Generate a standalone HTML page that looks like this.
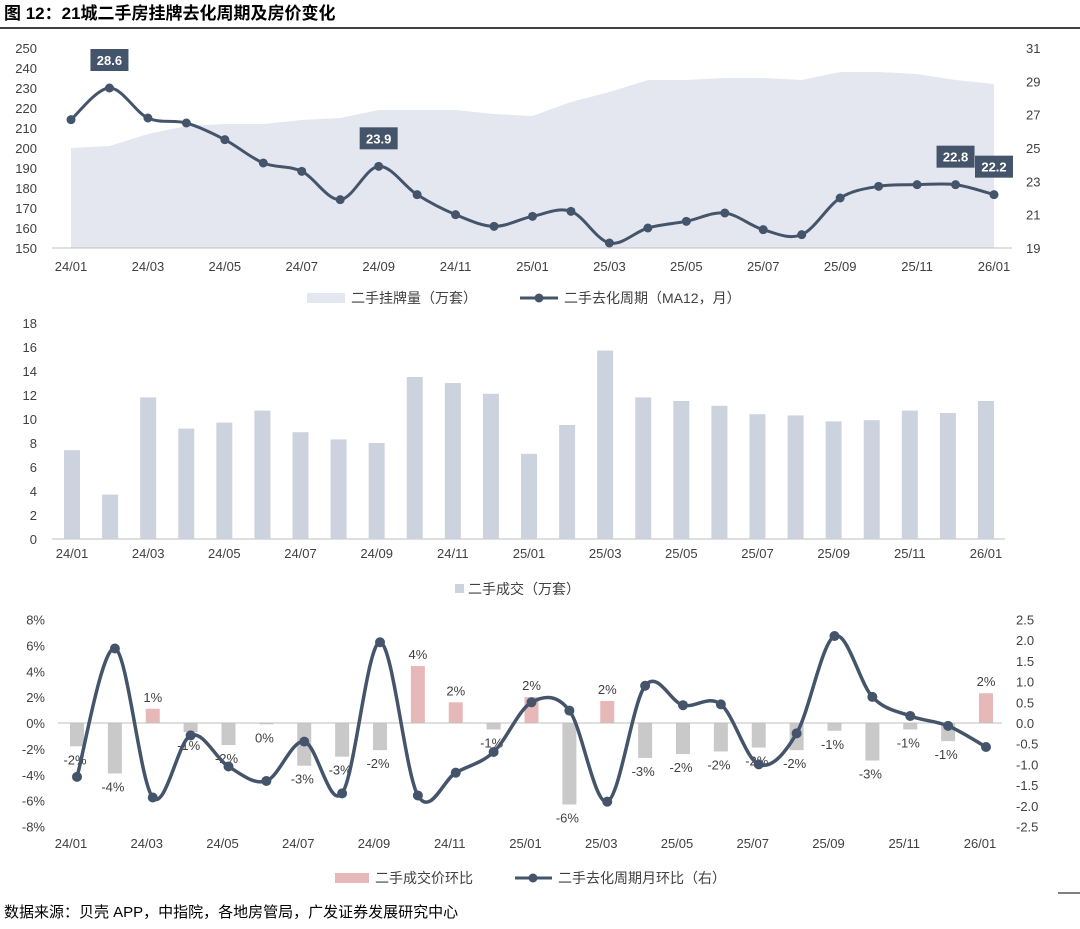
<!DOCTYPE html>
<html><head><meta charset="utf-8">
<style>
body{margin:0;background:#fff;font-family:"Liberation Sans","Noto Sans CJK SC",sans-serif;}
svg text{font-family:"Liberation Sans","Noto Sans CJK SC",sans-serif;}
</style></head>
<body>
<svg id="s" width="1080" height="924" viewBox="0 0 1080 924" xmlns="http://www.w3.org/2000/svg">
<text x="4" y="19" font-size="17" font-weight="bold" fill="#000">图 12：21城二手房挂牌去化周期及房价变化</text>
<line x1="0" y1="28" x2="1080" y2="28" stroke="#000" stroke-width="1.5"/>
<line x1="1058" y1="893" x2="1080" y2="893" stroke="#000" stroke-width="1"/>
<text x="4" y="917" font-size="15" fill="#000">数据来源：贝壳 APP，中指院，各地房管局，广发证券发展研究中心</text>
<g id="g1"></g><g id="g2"></g><g id="g3"></g>
</svg>
<script>
const months=["24/01","24/02","24/03","24/04","24/05","24/06","24/07","24/08","24/09","24/10","24/11","24/12","25/01","25/02","25/03","25/04","25/05","25/06","25/07","25/08","25/09","25/10","25/11","25/12","26/01"];
const listing=[200,201,207,211,212,212,214,215,219,219,219,217,216,223,228,234,234,235,235,234,238,238,237,234,232];
const cycle=[26.7,28.6,26.8,26.5,25.5,24.1,23.6,21.9,23.9,22.2,21.0,20.3,20.9,21.2,19.3,20.2,20.6,21.1,20.1,19.8,22.0,22.7,22.8,22.8,22.2];
const cycleLabels={1:"28.6",8:"23.9",23:"22.8",24:"22.2"};
const deals=[7.4,3.7,11.8,9.2,9.7,10.7,8.9,8.3,8.0,13.5,13.0,12.1,7.1,9.5,15.7,11.8,11.5,11.1,10.4,10.3,9.8,9.9,10.7,10.5,11.5];
const priceMoM=[-1.8,-3.9,1.1,-0.7,-1.7,-0.1,-3.3,-2.6,-2.1,4.4,1.6,-0.5,2.0,-6.3,1.7,-2.7,-2.4,-2.2,-1.9,-2.1,-0.6,-2.9,-0.5,-1.4,2.3];
const priceLabels=["-2%","-4%","1%","-1%","-2%","0%","-3%","-3%","-2%","4%","2%","-1%","2%","-6%","2%","-3%","-2%","-2%","-2%","-2%","-1%","-3%","-1%","-1%","2%"];
const cycleMoM=[-1.3,1.8,-1.8,-0.3,-1.05,-1.4,-0.45,-1.7,1.95,-1.75,-1.2,-0.7,0.5,0.3,-1.9,0.9,0.43,0.45,-1.0,-0.25,2.1,0.63,0.17,-0.07,-0.58];
const left1=[150,160,170,180,190,200,210,220,230,240,250];
const right1=[19,21,23,25,27,29,31];
const left2=[0,2,4,6,8,10,12,14,16,18];
const left3=[-8,-6,-4,-2,0,2,4,6,8];
const right3=[-2.5,-2.0,-1.5,-1.0,-0.5,0.0,0.5,1.0,1.5,2.0,2.5];
const xLabelIdx=[0,2,4,6,8,10,12,14,16,18,20,22,24];

const NS="http://www.w3.org/2000/svg";
function mk(p,tag,at,txt){const e=document.createElementNS(NS,tag);for(const k in at)e.setAttribute(k,at[k]);if(txt!==undefined)e.textContent=txt;p.appendChild(e);return e;}
function smooth(pts){let d="M"+pts[0][0]+","+pts[0][1];for(let i=0;i<pts.length-1;i++){const p0=pts[i-1]||pts[i],p1=pts[i],p2=pts[i+1],p3=pts[i+2]||p2;const c1x=p1[0]+(p2[0]-p0[0])/6,c1y=p1[1]+(p2[1]-p0[1])/6,c2x=p2[0]-(p3[0]-p1[0])/6,c2y=p2[1]-(p3[1]-p1[1])/6;d+=`C${c1x},${c1y} ${c2x},${c2y} ${p2[0]},${p2[1]}`;}return d;}
const LINE="#44546a";

// Chart 1
(function(){
const g=document.getElementById('g1');
const x=i=>71+i*(994-71)/24;
const yL=v=>48+(250-v)*2;
const yR=v=>48+(31-v)*200/12;
let d="M"+x(0)+","+yL(150);
listing.forEach((v,i)=>d+="L"+x(i)+","+yL(v));
d+="L"+x(24)+","+yL(150)+"Z";
const a=mk(g,'path',{d:d,fill:"#e4e7f0"});


mk(g,'line',{x1:52,y1:248,x2:1012,y2:248,stroke:"#bfbfbf"});
left1.forEach(v=>{const t=mk(g,'text',{x:37,y:yL(v)+5,"font-size":13,"text-anchor":"end",fill:"#404040"},v);});
right1.forEach(v=>{const t=mk(g,'text',{x:1026,y:yR(v)+5,"font-size":13,fill:"#404040"},v);});
xLabelIdx.forEach(i=>{const t=mk(g,'text',{x:x(i),y:271,"font-size":13,"text-anchor":"middle",fill:"#404040"},months[i]);});
const pts=cycle.map((v,i)=>[x(i),yR(v)]);
const l=mk(g,'path',{d:smooth(pts),fill:"none",stroke:LINE,"stroke-width":3});


pts.forEach(p=>{const c=mk(g,'circle',{cx:p[0],cy:p[1],r:4.5,fill:LINE});});
for(const k in cycleLabels){const i=+k;const px=x(i),py=yR(cycle[i])-28;
const r=mk(g,'rect',{x:px-19,y:py-11,width:38,height:22,fill:LINE});
const t=mk(g,'text',{x:px,y:py+5,"font-size":13,"font-weight":"bold","text-anchor":"middle",fill:"#fff"},cycleLabels[k]);}
const r1=mk(g,'rect',{x:307,y:293,width:38,height:10,fill:"#e4e7f0"});
const t1=mk(g,'text',{x:351,y:303,"font-size":14,fill:"#404040"},"二手挂牌量（万套）");
mk(g,'line',{x1:520,y1:298,x2:558,y2:298,stroke:LINE,"stroke-width":3});
mk(g,'circle',{cx:539,cy:298,r:4.5,fill:LINE});
const t2=mk(g,'text',{x:564,y:303,"font-size":14,fill:"#404040"},"二手去化周期（MA12，月）");
})();

// Chart 2
(function(){
const g=document.getElementById('g2');
const x=i=>72+i*(986-72)/24;
const y=v=>539-v*12;
mk(g,'line',{x1:52,y1:539,x2:1005,y2:539,stroke:"#bfbfbf"});
left2.forEach(v=>{const t=mk(g,'text',{x:37,y:y(v)+5,"font-size":13,"text-anchor":"end",fill:"#404040"},v);});
deals.forEach((v,i)=>{const b=mk(g,'rect',{x:x(i)-8,y:y(v),width:16,height:v*12,fill:"#cdd3de"});});
xLabelIdx.forEach(i=>{const t=mk(g,'text',{x:x(i),y:558,"font-size":13,"text-anchor":"middle",fill:"#404040"},months[i]);});
const r=mk(g,'rect',{x:455,y:584,width:9,height:9,fill:"#cdd3de"});
const t=mk(g,'text',{x:468,y:594,"font-size":14,fill:"#404040"},"二手成交（万套）");
})();

// Chart 3
(function(){
const g=document.getElementById('g3');
const x=i=>77+i*(986-77)/24;
const yL=v=>723-v*207/16;
const yR=v=>723-v*207/5;
left3.forEach(v=>{const t=mk(g,'text',{x:45,y:yL(v)+5,"font-size":13,"text-anchor":"end",fill:"#404040"},v+"%");});
right3.forEach(v=>{const t=mk(g,'text',{x:1016,y:yR(v)+5,"font-size":13,fill:"#404040"},v.toFixed(1));});
priceMoM.forEach((v,i)=>{const y0=yL(Math.max(v,0)),h=Math.abs(v)*207/16;
const b=mk(g,'rect',{x:x(i)-7,y:y0,width:14,height:h,fill:v>=0?"#e6b9b8":"#c9c9c9"});
const ty=v>=0?yL(v)-7:yL(v)+18;
const t=mk(g,'text',{x:x(i)-(v<0?2:0),y:ty,"font-size":13,"text-anchor":"middle",fill:"#404040"},priceLabels[i]);});
mk(g,'line',{x1:58,y1:723,x2:1002,y2:723,stroke:"#bfbfbf"});
const pts=cycleMoM.map((v,i)=>[x(i),yR(v)]);
const l=mk(g,'path',{d:smooth(pts),fill:"none",stroke:LINE,"stroke-width":3.5});


pts.forEach(p=>{const c=mk(g,'circle',{cx:p[0],cy:p[1],r:5,fill:LINE});});
xLabelIdx.forEach(i=>{const t=mk(g,'text',{x:x(i)-6,y:848,"font-size":13,"text-anchor":"middle",fill:"#404040"},months[i]);});
const r=mk(g,'rect',{x:335,y:873,width:34,height:10,fill:"#e6b9b8"});
const t1=mk(g,'text',{x:375,y:883,"font-size":14,fill:"#404040"},"二手成交价环比");
mk(g,'line',{x1:515,y1:878,x2:552,y2:878,stroke:LINE,"stroke-width":3});
mk(g,'circle',{cx:533,cy:878,r:4.5,fill:LINE});
const t2=mk(g,'text',{x:558,y:883,"font-size":14,fill:"#404040"},"二手去化周期月环比（右）");
})();
</script>
</body></html>
